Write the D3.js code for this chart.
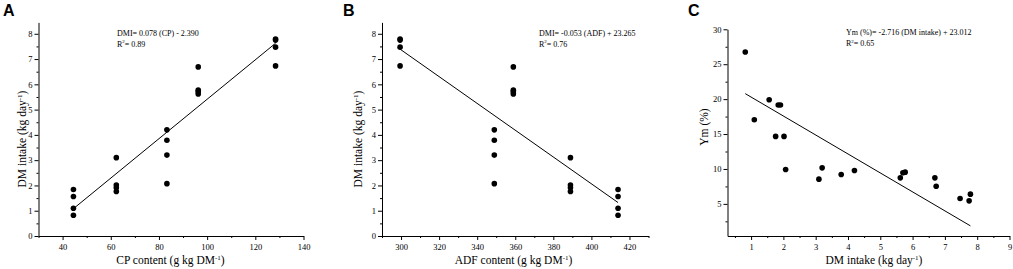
<!DOCTYPE html>
<html>
<head>
<meta charset="utf-8">
<script src="https://cdn.jsdelivr.net/npm/d3@7"></script>
<style>
  body { margin: 0; background: #fff; }
  svg { display: block; }
  .tick text { font-family: "Liberation Serif", serif; font-size: 8.5px; fill: #000; }
  .title { font-family: "Liberation Serif", serif; font-size: 11.5px; fill: #000; }
  .note { font-family: "Liberation Serif", serif; font-size: 8px; fill: #000; }
  .letter { font-family: "Liberation Sans", Arial, sans-serif; font-weight: bold; font-size: 16px; fill: #000; }
</style>
</head>
<body>
<svg id="chart" width="1013" height="269"></svg>
<script>
// groups of 4 animals / diets, same order in every array
const cpContent = [44.5, 62.3, 83.3, 96.3, 128.4];
const adfContent = [414, 389, 349, 359, 299.5];
const dmIntake = [
    [1.84, 1.56, 1.10, 0.82],
    [3.10, 2.02, 1.91, 1.76],
    [4.20, 3.79, 3.20, 2.07],
    [6.69, 5.77, 5.70, 5.62],
    [7.79, 7.75, 7.47, 6.73]
];
const ymPct = [
    [19.15, 19.91, 17.05, 26.75],
    [8.54, 14.66, 19.15, 14.66],
    [9.78, 9.20, 10.16, 9.92],
    [8.73, 9.54, 9.45, 8.73],
    [6.39, 5.43, 5.76, 7.53]
];

// regression fits shown on each panel
const fitA = { slope: 0.078, icpt: -2.390, from: 44.5, to: 128.4 };
const fitB = { slope: -0.053, icpt: 23.265, from: 299.5, to: 414 };
const fitC = { slope: -2.716, icpt: 23.012, from: 0.82, to: 7.79 };

const svg = d3.select("#chart");

function flat(xs, ys) {
    const pts = [];
    xs.forEach((x, i) => ys[i].forEach(y => pts.push([x, y])));
    return pts;
}

function panel(opt) {
    const g = svg.append("g");
    const x = d3.scaleLinear().domain(opt.xDomain).range(opt.xRange);
    const y = d3.scaleLinear().domain(opt.yDomain).range(opt.yRange);
    const x0 = opt.xRange[0], y0 = opt.yRange[0];

    // minor ticks first
    g.append("g")
        .attr("transform", `translate(0,${y0})`)
        .call(d3.axisBottom(x).tickValues(opt.xMinor).tickSize(2).tickFormat(""))
        .call(a => a.select(".domain").remove());
    g.append("g")
        .attr("transform", `translate(${x0},0)`)
        .call(d3.axisLeft(y).tickValues(opt.yMinor).tickSize(2).tickFormat(""))
        .call(a => a.select(".domain").remove());

    const xa = g.append("g")
        .attr("transform", `translate(0,${y0})`)
        .call(d3.axisBottom(x).tickValues(opt.xTicks).tickSize(4).tickSizeOuter(0));
    xa.selectAll("text").attr("y", 13.5).attr("dy", 0);

    const ya = g.append("g")
        .attr("transform", `translate(${x0},0)`)
        .call(d3.axisLeft(y).tickValues(opt.yTicks).tickSize(4).tickSizeOuter(0));
    ya.selectAll("text").attr("x", -6);

    g.selectAll(".domain").attr("stroke", "#000");
    g.selectAll(".tick line").attr("stroke", "#000");

    // fitted line
    const f = opt.fit;
    g.append("line")
        .attr("x1", x(f.from)).attr("y1", y(f.slope * f.from + f.icpt))
        .attr("x2", x(f.to)).attr("y2", y(f.slope * f.to + f.icpt))
        .attr("stroke", "#000").attr("stroke-width", 1);

    g.selectAll("circle")
        .data(opt.points)
        .enter().append("circle")
        .attr("cx", d => x(d[0]))
        .attr("cy", d => y(d[1]))
        .attr("r", 2.8)
        .attr("fill", "#000");

    // titles
    const xt = g.append("text").attr("class", "title")
        .attr("x", opt.xTitlePos[0]).attr("y", opt.xTitlePos[1])
        .attr("text-anchor", "middle");
    opt.xTitle(xt);

    const yt = g.append("text").attr("class", "title")
        .attr("transform", `translate(${opt.yTitlePos[0]},${opt.yTitlePos[1]}) rotate(-90)`)
        .attr("text-anchor", "middle");
    opt.yTitle(yt);

    g.append("text").attr("class", "note")
        .attr("x", opt.notePos[0]).attr("y", opt.notePos[1])
        .text(opt.note);
    const n2 = g.append("text").attr("class", "note")
        .attr("x", opt.notePos[0]).attr("y", opt.notePos[1] + 11);
    n2.append("tspan").text("R");
    n2.append("tspan").attr("font-size", "5px").attr("dy", -3.5).text("2");
    n2.append("tspan").attr("dy", 3.5).text("= " + opt.r2);

    g.append("text").attr("class", "letter")
        .attr("x", opt.letterPos[0]).attr("y", opt.letterPos[1])
        .text(opt.letter);
}

function withSup(main, sup, tail) {
    return t => {
        t.append("tspan").text(main);
        t.append("tspan").attr("font-size", "7px").attr("dy", -4).text(sup);
        t.append("tspan").attr("dy", 4).text(tail);
    };
}

const range = (a, b, s) => d3.range(a, b + s / 2, s);

panel({
    letter: "A", letterPos: [3, 16],
    xDomain: [30, 140], xRange: [38.5, 303.5],
    yDomain: [0, 8.45], yRange: [236, 22.4],
    xTicks: range(40, 140, 20), xMinor: range(30, 130, 20),
    yTicks: range(0, 8, 1), yMinor: range(0.5, 8, 1),
    points: flat(cpContent, dmIntake),
    fit: fitA,
    note: "DMI= 0.078 (CP) - 2.390", r2: "0.89", notePos: [117, 35.5],
    xTitle: withSup("CP content (g kg DM", "-1", ")"), xTitlePos: [170.5, 264],
    yTitle: withSup("DM intake (kg day", "-1", ")"), yTitlePos: [25.5, 139]
});

panel({
    letter: "B", letterPos: [343, 16],
    xDomain: [290, 430], xRange: [382, 648.5],
    yDomain: [0, 8.45], yRange: [236, 22.4],
    xTicks: range(300, 420, 20), xMinor: range(290, 430, 20),
    yTicks: range(0, 8, 1), yMinor: range(0.5, 8, 1),
    points: flat(adfContent, dmIntake),
    fit: fitB,
    note: "DMI= -0.053 (ADF) + 23.265", r2: "0.76", notePos: [539, 35.5],
    xTitle: withSup("ADF content (g kg DM", "-1", ")"), xTitlePos: [513.5, 264],
    yTitle: withSup("DM intake (kg day", "-1", ")"), yTitlePos: [362, 139]
});

panel({
    letter: "C", letterPos: [688, 16],
    xDomain: [0.27, 9], xRange: [727.5, 1009.5],
    yDomain: [0.4, 30], yRange: [236, 29.3],
    xTicks: range(1, 9, 1), xMinor: range(0.5, 8.5, 1),
    yTicks: range(5, 30, 5), yMinor: range(2.5, 27.5, 5),
    points: flat(dmIntake.flat(), ymPct.flat().map(v => [v])),
    fit: fitC,
    note: "Ym (%)= -2.716 (DM intake) + 23.012", r2: "0.65", notePos: [846, 35],
    xTitle: withSup("DM intake (kg day", "-1", ")"), xTitlePos: [874, 264],
    yTitle: t => t.text("Ym (%)"), yTitlePos: [707.5, 127]
});
</script>
</body>
</html>
